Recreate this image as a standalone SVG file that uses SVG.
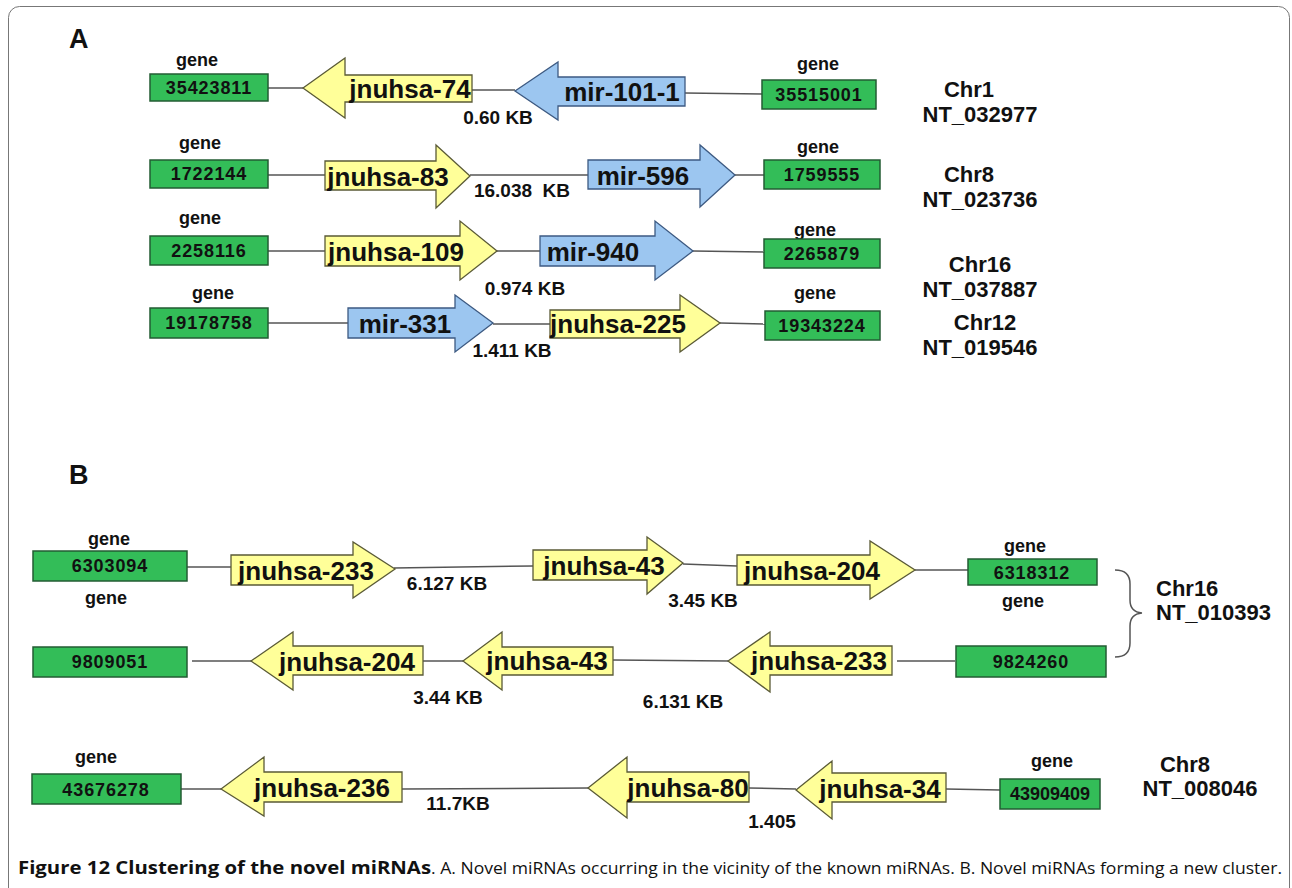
<svg xmlns="http://www.w3.org/2000/svg" width="1292" height="888" viewBox="0 0 1292 888">
<style>
text{font-family:"Liberation Sans",Arial,sans-serif;font-weight:bold;fill:#111;text-anchor:middle}
.gene rect{fill:#33bd58;stroke:#235c33;stroke-width:1.5}
.gene text{font-size:18px;letter-spacing:0.9px}
.gene text.glbl{font-size:18px;letter-spacing:0}
.yel polygon{fill:#ffff99;stroke:#5a5a36;stroke-width:1.3}
.blu polygon{fill:#9cc6f0;stroke:#3d5a82;stroke-width:1.3}
.arr text{font-size:26px}
.kb{font-size:19px}
.chr{font-size:22px}
.panel{font-size:27px;text-anchor:start}
#connectors line{stroke:#555;stroke-width:1.5}
.cap{font-family:"Open Sans","Noto Sans",sans-serif;font-size:17px;text-anchor:start}
</style>
<rect x="8.5" y="6.5" width="1281" height="920" rx="11" fill="#fff" stroke="#777" stroke-width="1"/>
<text class="panel" x="69" y="48">A</text>
<text class="panel" x="69" y="484">B</text>

<g id="connectors">
<line x1="268" y1="88" x2="303" y2="88"/>
<line x1="472" y1="90" x2="515" y2="90"/>
<line x1="685" y1="93" x2="762" y2="94"/>
<line x1="268" y1="175" x2="325" y2="175"/>
<line x1="470" y1="175" x2="588" y2="175"/>
<line x1="735" y1="175" x2="764" y2="175"/>
<line x1="268" y1="251" x2="325" y2="251"/>
<line x1="497" y1="251" x2="540" y2="251"/>
<line x1="693" y1="251" x2="764" y2="252"/>
<line x1="268" y1="323" x2="348" y2="323"/>
<line x1="493" y1="324" x2="550" y2="324"/>
<line x1="720" y1="323" x2="765" y2="324"/>
<line x1="187" y1="567" x2="232" y2="567"/>
<line x1="394" y1="568" x2="533" y2="566"/>
<line x1="683" y1="564" x2="737" y2="566"/>
<line x1="915" y1="570" x2="968" y2="570"/>
<line x1="192" y1="661" x2="251" y2="661"/>
<line x1="423" y1="661" x2="463" y2="661"/>
<line x1="613" y1="660" x2="728" y2="661"/>
<line x1="897" y1="661" x2="955" y2="661"/>
<line x1="181" y1="789" x2="221" y2="789"/>
<line x1="402" y1="789" x2="588" y2="788"/>
<line x1="749" y1="788" x2="796" y2="789"/>
<line x1="946" y1="789" x2="1000" y2="790"/>
</g>

<!-- Panel A row 1 -->
<g id="gA1L" class="gene"><text class="glbl" x="197" y="66">gene</text><rect x="150" y="74" width="118" height="27"/><text x="209" y="94">35423811</text></g>
<g id="jnuhsa74" class="arr yel"><polygon points="303,88 345,58 345,75 472,75 472,102 345,102 345,118"/><text x="410" y="98">jnuhsa-74</text></g>
<g id="mir101" class="arr blu"><polygon points="515,91 558,62 558,77 685,77 685,106 558,106 558,120"/><text x="622" y="101">mir-101-1</text></g>
<g id="gA1R" class="gene"><text class="glbl" x="818" y="70">gene</text><rect x="762" y="80" width="114" height="29"/><text x="819" y="101">35515001</text></g>
<text id="kbA1" class="kb" x="498" y="124">0.60 KB</text>
<g id="chrA1"><text class="chr" x="969" y="97">Chr1</text><text class="chr" x="980" y="122">NT_032977</text></g>

<!-- Panel A row 2 -->
<g id="gA2L" class="gene"><text class="glbl" x="200" y="149">gene</text><rect x="150" y="160" width="118" height="28"/><text x="209" y="180">1722144</text></g>
<g id="jnuhsa83" class="arr yel"><polygon points="325,161 436,161 436,145 470,176 436,208 436,190 325,190"/><text x="388" y="186">jnuhsa-83</text></g>
<g id="mir596" class="arr blu"><polygon points="588,160 700,160 700,145 735,175 700,207 700,189 588,189"/><text x="643" y="185">mir-596</text></g>
<g id="gA2R" class="gene"><text class="glbl" x="818" y="153">gene</text><rect x="764" y="160" width="116" height="29"/><text x="822" y="181">1759555</text></g>
<text id="kbA2" class="kb" x="522" y="197" xml:space="preserve">16.038  KB</text>
<g id="chrA2"><text class="chr" x="969" y="182">Chr8</text><text class="chr" x="980" y="207">NT_023736</text></g>

<!-- Panel A row 3 -->
<g id="gA3L" class="gene"><text class="glbl" x="200" y="224">gene</text><rect x="150" y="236" width="118" height="29"/><text x="209" y="257">2258116</text></g>
<g id="jnuhsa109" class="arr yel"><polygon points="325,236 460,236 460,221 497,251 460,280 460,266 325,266"/><text x="396" y="261">jnuhsa-109</text></g>
<g id="mir940" class="arr blu"><polygon points="540,236 655,236 655,221 693,251 655,280 655,266 540,266"/><text x="593" y="261">mir-940</text></g>
<g id="gA3R" class="gene"><text class="glbl" x="815" y="236">gene</text><rect x="764" y="239" width="116" height="29"/><text x="822" y="260">2265879</text></g>
<text id="kbA3" class="kb" x="525" y="295">0.974 KB</text>
<g id="chrA3"><text class="chr" x="980" y="272">Chr16</text><text class="chr" x="980" y="297">NT_037887</text></g>

<!-- Panel A row 4 -->
<g id="gA4L" class="gene"><text class="glbl" x="213" y="299">gene</text><rect x="150" y="308" width="118" height="30"/><text x="209" y="329">19178758</text></g>
<g id="mir331" class="arr blu"><polygon points="348,308 455,308 455,295 493,323 455,352 455,338 348,338"/><text x="405" y="333">mir-331</text></g>
<g id="jnuhsa225" class="arr yel"><polygon points="550,310 680,310 680,295 720,323 680,352 680,338 550,338"/><text x="618" y="333">jnuhsa-225</text></g>
<g id="gA4R" class="gene"><text class="glbl" x="815" y="299">gene</text><rect x="765" y="311" width="115" height="29"/><text x="822" y="332">19343224</text></g>
<text id="kbA4" class="kb" x="512" y="357">1.411 KB</text>
<g id="chrA4"><text class="chr" x="985" y="330">Chr12</text><text class="chr" x="980" y="355">NT_019546</text></g>

<!-- Panel B row 1 -->
<g id="gB1L" class="gene"><text class="glbl" x="109" y="545">gene</text><rect x="33" y="551" width="154" height="30"/><text x="110" y="572">6303094</text></g>
<g id="jnuhsa233a" class="arr yel"><polygon points="231,555 353,555 353,542 395,569 353,598 353,585 231,585"/><text x="306" y="580">jnuhsa-233</text></g>
<g id="jnuhsa43a" class="arr yel"><polygon points="533,550 647,550 647,537 683,563 647,594 647,580 533,580"/><text x="604" y="575">jnuhsa-43</text></g>
<g id="jnuhsa204a" class="arr yel"><polygon points="737,555 870,555 870,541 915,570 870,599 870,585 737,585"/><text x="812" y="580">jnuhsa-204</text></g>
<g id="gB1R" class="gene"><text class="glbl" x="1025" y="552">gene</text><rect x="968" y="559" width="129" height="26"/><text x="1032" y="579">6318312</text></g>
<text id="kbB1a" class="kb" x="447" y="590">6.127 KB</text>
<text id="kbB1b" class="kb" x="703" y="607">3.45 KB</text>

<!-- Panel B row 2 -->
<g id="gB2L" class="gene"><text class="glbl" x="106" y="604">gene</text><rect x="33" y="647" width="154" height="30"/><text x="110" y="668">9809051</text></g>
<g id="jnuhsa204b" class="arr yel"><polygon points="251,661 293,632 293,646 423,646 423,675 293,675 293,690"/><text x="347" y="671">jnuhsa-204</text></g>
<g id="jnuhsa43b" class="arr yel"><polygon points="463,661 502,632 502,647 613,647 613,675 502,675 502,690"/><text x="547" y="670">jnuhsa-43</text></g>
<g id="jnuhsa233b" class="arr yel"><polygon points="728,661 770,632 770,646 892,646 892,675 770,675 770,692"/><text x="819" y="670">jnuhsa-233</text></g>
<g id="gB2R" class="gene"><text class="glbl" x="1023" y="607">gene</text><rect x="956" y="646" width="150" height="31"/><text x="1031" y="668">9824260</text></g>
<text id="kbB2a" class="kb" x="448" y="704">3.44 KB</text>
<text id="kbB2b" class="kb" x="683" y="708">6.131 KB</text>

<g id="chrB1"><path d="M1115,570 Q1130,570 1130,584 L1130,600 Q1130,612 1142,613 Q1130,614 1130,626 L1130,643 Q1130,657 1115,657" fill="none" stroke="#555" stroke-width="1.5"/><text class="chr" x="1156" y="596" style="text-anchor:start">Chr16</text><text class="chr" x="1156" y="620" style="text-anchor:start">NT_010393</text></g>

<!-- Panel B row 3 -->
<g id="gB3L" class="gene"><text class="glbl" x="96" y="763">gene</text><rect x="32" y="774" width="149" height="30"/><text x="106" y="796">43676278</text></g>
<g id="jnuhsa236" class="arr yel"><polygon points="221,789 264,757 264,772 402,772 402,802 264,802 264,816"/><text x="322" y="797">jnuhsa-236</text></g>
<g id="jnuhsa80" class="arr yel"><polygon points="588,788 627,757 627,772 749,772 749,802 627,802 627,818"/><text x="688" y="797">jnuhsa-80</text></g>
<g id="jnuhsa34" class="arr yel"><polygon points="796,790 832,761 832,773 946,773 946,802 832,802 832,819"/><text x="880" y="798">jnuhsa-34</text></g>
<g id="gB3R" class="gene"><text class="glbl" x="1052" y="767">gene</text><rect x="1000" y="779" width="100" height="30"/><text x="1050" y="800" style="letter-spacing:0">43909409</text></g>
<text id="kbB3a" class="kb" x="458" y="810">11.7KB</text>
<text id="kbB3b" class="kb" x="772" y="828">1.405</text>
<g id="chrB3"><text class="chr" x="1185" y="772">Chr8</text><text class="chr" x="1200" y="796">NT_008046</text></g>

<g id="caption">
<text class="cap" x="18" y="874" textLength="413" lengthAdjust="spacingAndGlyphs">Figure 12 Clustering of the novel miRNAs</text>
<text class="cap" x="431" y="874" style="font-weight:normal" textLength="851" lengthAdjust="spacingAndGlyphs">. A. Novel miRNAs occurring in the vicinity of the known miRNAs. B. Novel miRNAs forming a new cluster.</text>
</g>
</svg>
